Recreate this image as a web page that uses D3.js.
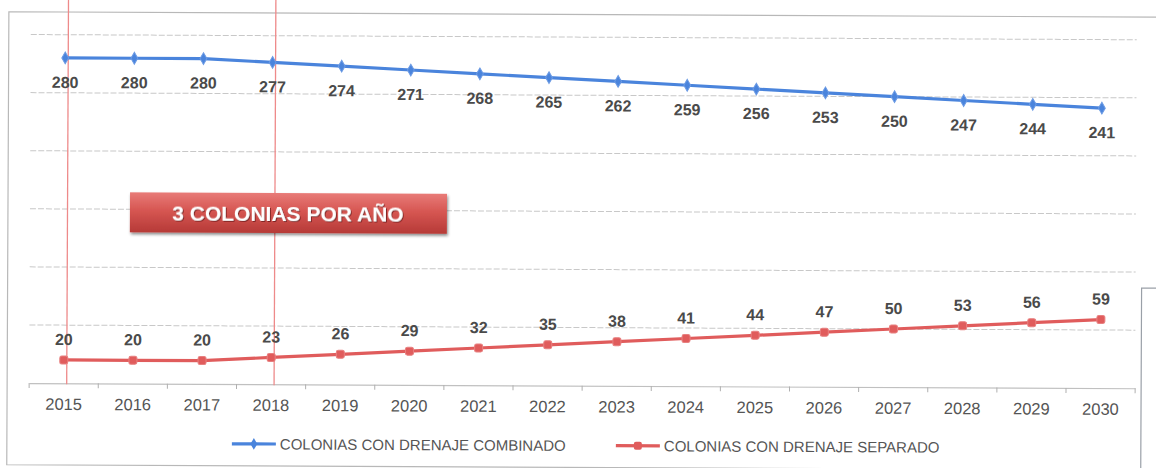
<!DOCTYPE html>
<html><head><meta charset="utf-8">
<script src="https://cdn.jsdelivr.net/npm/d3@7"></script>
<style>
html,body{margin:0;padding:0;background:#fff;overflow:hidden;}
svg{display:block;font-family:"Liberation Sans",Arial,sans-serif;}
</style></head>
<body>
<svg id="chart" width="1156" height="468"></svg>
<script>
const years = ["2015","2016","2017","2018","2019","2020","2021","2022","2023","2024","2025","2026","2027","2028","2029","2030"];
const combinado = [280,280,280,277,274,271,268,265,262,259,256,253,250,247,244,241];
const separado = [20,20,20,23,26,29,32,35,38,41,44,47,50,53,56,59];
const yTicks = [0,50,100,150,200,250,300];
const highlightYears = ["2015","2018"];
const seriesNames = ["COLONIAS CON DRENAJE COMBINADO","COLONIAS CON DRENAJE SEPARADO"];
const annotation = "3 COLONIAS POR AÑO";

const BLUE = "#4a84dc", RED = "#e05c5c";
const svg = d3.select("#chart");
const defs = svg.append("defs");
const grad = defs.append("linearGradient").attr("id","boxg").attr("x1",0).attr("x2",0).attr("y1",0).attr("y2",1);
grad.append("stop").attr("offset","0%").attr("stop-color","#e87b78");
grad.append("stop").attr("offset","45%").attr("stop-color","#d65652");
grad.append("stop").attr("offset","100%").attr("stop-color","#b63a37");
const flt = defs.append("filter").attr("id","sh").attr("x","-10%").attr("y","-20%").attr("width","130%").attr("height","160%");
flt.append("feDropShadow").attr("dx",1).attr("dy",2).attr("stdDeviation",1.5).attr("flood-color","#000").attr("flood-opacity",0.45);
const tflt = defs.append("filter").attr("id","tsh");
tflt.append("feDropShadow").attr("dx",1).attr("dy",1).attr("stdDeviation",0.6).attr("flood-color","#6a1a1a").attr("flood-opacity",0.8);

const root = svg.append("g").attr("transform","rotate(0.27,65,200)");

// outer frame (top, left, bottom edges; right edge is off-page)
root.append("path").attr("d","M1170,12H8V465H1170")
  .attr("fill","none").attr("stroke","#b8b8b8").attr("stroke-width",1.2);
// partial box at right edge
root.append("path").attr("d","M1170,283H1142V470")
  .attr("fill","none").attr("stroke","#9aa0a8").attr("stroke-width",1.2);

const x = d3.scaleBand().domain(years).range([30,1136]);
const bw = x.bandwidth();
const cx = d => x(d) + bw/2;
const y = d3.scaleLinear().domain([0,300]).range([383.2,34.7]);

// gridlines
root.append("g").selectAll("line").data(yTicks.slice(1)).join("line")
  .attr("x1",30).attr("x2",1136).attr("y1",d=>y(d)).attr("y2",d=>y(d))
  .attr("stroke","#c8c8c8").attr("stroke-width",1).attr("stroke-dasharray","6,2");

// axis
const ax = root.append("g").attr("transform",`translate(0,${y(0)})`)
  .call(d3.axisBottom(x).tickSize(0).tickSizeOuter(0).tickPadding(15));
ax.select(".domain").attr("stroke","#c0c0c0").attr("stroke-width",1.2);
ax.selectAll("text").attr("font-size","16.5px").attr("fill","#555").attr("font-family","Liberation Sans, Arial, sans-serif");
root.append("g").selectAll("line").data(years.concat(["end"])).join("line")
  .attr("x1",d=>d==="end"?x.range()[1]:x(d)).attr("x2",d=>d==="end"?x.range()[1]:x(d))
  .attr("y1",y(0)).attr("y2",y(0)+5).attr("stroke","#b0b0b0").attr("stroke-width",1);

// highlight vertical lines
root.append("g").selectAll("line").data(highlightYears).join("line")
  .attr("x1",d=>cx(d)+3).attr("x2",d=>cx(d)+3).attr("y1",-5).attr("y2",y(0)+1)
  .attr("stroke","#ee8a8a").attr("stroke-width",1.3);

// lines
const line = d3.line().x((d,i)=>cx(years[i])).y(d=>y(d));
root.append("path").datum(combinado).attr("d",line).attr("fill","none").attr("stroke",BLUE).attr("stroke-width",3.2);
root.append("path").datum(separado).attr("d",line).attr("fill","none").attr("stroke",RED).attr("stroke-width",3.2);

const diamond = d3.symbol().type(d3.symbolDiamond).size(40);
root.append("g").selectAll("path").data(combinado).join("path")
  .attr("transform",(d,i)=>`translate(${cx(years[i])},${y(d)})`).attr("d",diamond)
  .attr("fill",BLUE).attr("stroke","#6c9be4").attr("stroke-width",1);
root.append("g").selectAll("rect").data(separado).join("rect")
  .attr("x",(d,i)=>cx(years[i])-4).attr("y",d=>y(d)-4).attr("width",8).attr("height",8).attr("rx",2)
  .attr("fill",RED).attr("stroke","#e88080").attr("stroke-width",1);

// data labels
root.append("g").selectAll("text").data(combinado).join("text")
  .attr("x",(d,i)=>cx(years[i])).attr("y",d=>y(d)+30).attr("text-anchor","middle")
  .attr("font-size","16px").attr("font-weight","bold").attr("fill","#4a4a4a").text(d=>d);
root.append("g").selectAll("text").data(separado).join("text")
  .attr("x",(d,i)=>cx(years[i])).attr("y",d=>y(d)-15).attr("text-anchor","middle")
  .attr("font-size","16px").attr("font-weight","bold").attr("fill","#4a4a4a").text(d=>d);

// annotation box
const ab = root.append("g");
ab.append("rect").attr("x",130).attr("y",192).attr("width",317).attr("height",40)
  .attr("fill","url(#boxg)").attr("filter","url(#sh)");
ab.append("text").attr("x",288).attr("y",220).attr("text-anchor","middle")
  .attr("font-size","21px").attr("font-weight","bold").attr("fill","#fff").attr("filter","url(#tsh)")
  .text(annotation);

// legend
const lg = root.append("g");
const legendItems = [{name:seriesNames[0],color:BLUE,x0:233,mark:"d"},{name:seriesNames[1],color:RED,x0:617,mark:"s"}];
legendItems.forEach(it=>{
  lg.append("line").attr("x1",it.x0).attr("x2",it.x0+44).attr("y1",443).attr("y2",443)
    .attr("stroke",it.color).attr("stroke-width",3.2);
  if(it.mark==="d"){
    lg.append("path").attr("transform",`translate(${it.x0+22},443)`).attr("d",diamond).attr("fill",it.color);
  } else {
    lg.append("rect").attr("x",it.x0+18).attr("y",439).attr("width",8).attr("height",8).attr("rx",2).attr("fill",it.color);
  }
  lg.append("text").attr("x",it.x0+48).attr("y",448.5).attr("font-size","15px").attr("fill","#555").text(it.name);
});
</script>
</body></html>
